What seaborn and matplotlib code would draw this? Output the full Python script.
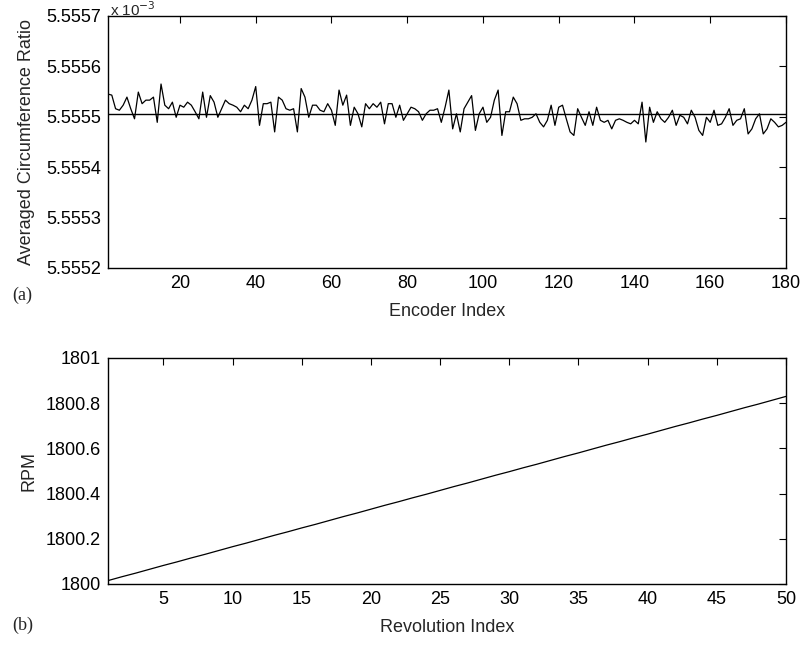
import numpy as np
import seaborn as sns
import matplotlib.pyplot as plt
from matplotlib.ticker import FormatStrFormatter

# panel (a): averaged circumference ratio per encoder index (units of 1e-3)
encoder_index = np.arange(1, 181)
circ_ratio = [
    5.555545, 5.555543, 5.555516, 5.555513, 5.555523, 5.555539, 5.555516, 5.555496, 5.555549, 5.555526,
    5.555533, 5.555533, 5.555539, 5.555489, 5.555565, 5.555523, 5.555516, 5.555529, 5.555499, 5.555523,
    5.555519, 5.555529, 5.555523, 5.555510, 5.555496, 5.555549, 5.555499, 5.555542, 5.555529, 5.555499,
    5.555516, 5.555533, 5.555526, 5.555523, 5.555519, 5.555510, 5.555523, 5.555516, 5.555533, 5.555560,
    5.555483, 5.555526, 5.555526, 5.555529, 5.555470, 5.555539, 5.555533, 5.555516, 5.555513, 5.555516,
    5.555470, 5.555556, 5.555539, 5.555499, 5.555523, 5.555523, 5.555513, 5.555510, 5.555526, 5.555513,
    5.555483, 5.555553, 5.555523, 5.555543, 5.555483, 5.555519, 5.555506, 5.555480, 5.555526, 5.555516,
    5.555526, 5.555519, 5.555529, 5.555486, 5.555526, 5.555526, 5.555499, 5.555523, 5.555493, 5.555506,
    5.555519, 5.555516, 5.555510, 5.555493, 5.555506, 5.555513, 5.555513, 5.555516, 5.555489, 5.555519,
    5.555553, 5.555476, 5.555506, 5.555470, 5.555516, 5.555529, 5.555542, 5.555473, 5.555506, 5.555519,
    5.555489, 5.555499, 5.555533, 5.555553, 5.555463, 5.555510, 5.555510, 5.555539, 5.555526, 5.555493,
    5.555496, 5.555496, 5.555499, 5.555506, 5.555489, 5.555480, 5.555493, 5.555523, 5.555483, 5.555519,
    5.555523, 5.555496, 5.555470, 5.555463, 5.555516, 5.555499, 5.555483, 5.555510, 5.555483, 5.555519,
    5.555493, 5.555489, 5.555493, 5.555476, 5.555493, 5.555496, 5.555493, 5.555489, 5.555486, 5.555493,
    5.555486, 5.555529, 5.555450, 5.555519, 5.555489, 5.555510, 5.555496, 5.555489, 5.555499, 5.555513,
    5.555483, 5.555503, 5.555499, 5.555486, 5.555513, 5.555499, 5.555473, 5.555463, 5.555499, 5.555489,
    5.555513, 5.555483, 5.555486, 5.555499, 5.555516, 5.555483, 5.555493, 5.555496, 5.555516, 5.555466,
    5.555476, 5.555496, 5.555506, 5.555466, 5.555476, 5.555496, 5.555489, 5.555480, 5.555483, 5.555489,
]
ratio_mean = 5.555505

# panel (b): rpm per revolution
revolution_index = np.arange(1, 51)
rpm = [
    1800.015, 1800.032, 1800.048, 1800.065, 1800.082, 1800.098, 1800.115, 1800.131, 1800.148, 1800.165,
    1800.181, 1800.198, 1800.215, 1800.231, 1800.248, 1800.264, 1800.281, 1800.298, 1800.314, 1800.331,
    1800.348, 1800.364, 1800.381, 1800.397, 1800.414, 1800.431, 1800.447, 1800.464, 1800.481, 1800.497,
    1800.514, 1800.530, 1800.547, 1800.564, 1800.580, 1800.597, 1800.614, 1800.630, 1800.647, 1800.663,
    1800.680, 1800.697, 1800.713, 1800.730, 1800.746, 1800.763, 1800.780, 1800.796, 1800.813, 1800.830,
]

sns.set_style("white")
plt.rcParams['font.family'] = ['Liberation Sans', 'DejaVu Sans']
fs = 13

fig = plt.figure(figsize=(8.03, 6.47), dpi=100)
ax1 = fig.add_axes([0.1345, 0.5858, 0.8443, 0.3895])
ax2 = fig.add_axes([0.1345, 0.0974, 0.8443, 0.3493])

# top panel
sns.lineplot(x=encoder_index, y=circ_ratio, ax=ax1, color='black', lw=0.9)
ax1.axhline(ratio_mean, color='black', lw=1.0)
ax1.set_xlim(1, 180)
ax1.set_ylim(5.5552, 5.5557)
ax1.set_xticks(np.arange(20, 181, 20))
ax1.set_yticks(np.arange(5.5552, 5.55571, 0.0001))
ax1.yaxis.set_major_formatter(FormatStrFormatter('%.4f'))
ax1.set_xlabel('Encoder Index', fontsize=fs, labelpad=8)
ax1.set_ylabel('Averaged Circumference Ratio', fontsize=fs, labelpad=8)
fig.text(0.1345 + 0.003, 0.999, r'x 10$^{-3}$', fontsize=11, ha='left', va='top')

# bottom panel
sns.lineplot(x=revolution_index, y=rpm, ax=ax2, color='black', lw=0.9)
ax2.set_xlim(1, 50)
ax2.set_ylim(1800, 1801)
ax2.set_xticks(np.arange(5, 51, 5))
ax2.set_yticks([1800, 1800.2, 1800.4, 1800.6, 1800.8, 1801])
ax2.set_yticklabels(['1800', '1800.2', '1800.4', '1800.6', '1800.8', '1801'])
ax2.set_xlabel('Revolution Index', fontsize=fs, labelpad=8)
ax2.set_ylabel('RPM', fontsize=fs, labelpad=6)

for ax in (ax1, ax2):
    ax.tick_params(direction='in', length=5, width=0.8, top=True, right=True,
                   labelsize=fs, pad=5, colors='black')
    for sp in ax.spines.values():
        sp.set_color('black')
        sp.set_linewidth(1.0)

fig.text(12 / 803, 1 - 295 / 647, '(a)', family='Liberation Serif', fontsize=fs,
         va='center', ha='left')
fig.text(12 / 803, 1 - 625 / 647, '(b)', family='Liberation Serif', fontsize=fs,
         va='center', ha='left')

fig.savefig('out.png', dpi=100, facecolor='white')
